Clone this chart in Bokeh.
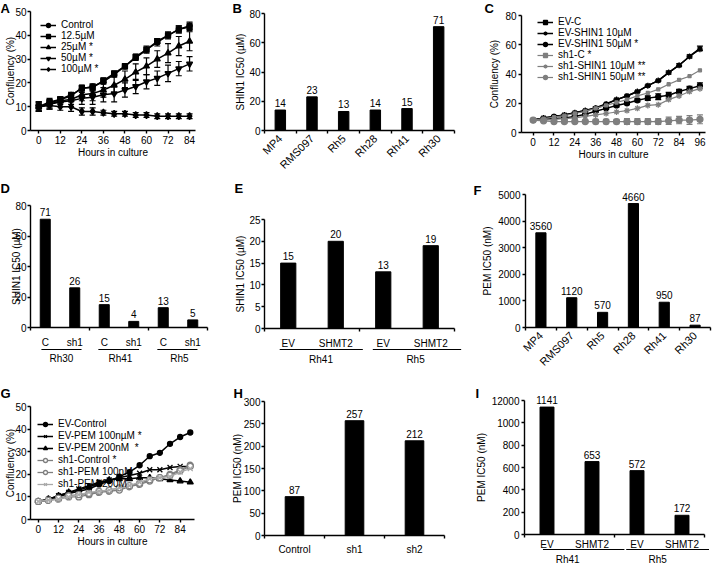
import math
from bokeh.plotting import figure
from bokeh.layouts import column, row
from bokeh.models import (FixedTicker, Legend, LegendItem, Whisker, ColumnDataSource,
                          TeeHead, Range1d)
from bokeh.embed import file_html
from bokeh.resources import INLINE
from bokeh.core.properties import value

FONT = "Liberation Sans"
FS = "10px"
GRAY = "#7f7f7f"
LGRAY = "#a9a9a9"

# ---------------- data ----------------
# Panel A
a_hours = [0, 6, 12, 18, 24, 30, 36, 42, 48, 54, 60, 66, 72, 78, 84]
a_control = [10, 11.5, 13, 15, 17.5, 18.5, 20.5, 23.5, 27, 30.5, 34, 37, 40, 42.5, 44]
a_12_5 = [10, 12, 13, 14.5, 18, 18, 21, 24, 27, 31, 34, 37.5, 40, 42.5, 43.5]
a_25 = [10, 11, 12.5, 13, 15, 15.5, 17, 19, 21.5, 24.5, 27, 30, 32.5, 35.5, 37.5]
a_50 = [10, 11, 12, 12.5, 13.5, 14, 15, 15.5, 17, 18.5, 20.5, 22, 24, 26, 28]
a_100 = [10, 10.5, 10, 10, 8, 8, 7.5, 7, 7, 6.5, 6.5, 6, 6, 6, 6]
a_err_control = [1.5, 1, 1, 1, 1, 1, 1, 1, 1, 1, 1.5, 1.5, 1.5, 1.5, 1.5]
a_err_12_5 = [2, 1.5, 1, 1, 1, 1.5, 1, 1, 1, 1, 1, 1, 1, 1.5, 1.5]
a_err_25 = [2, 1.5, 1.5, 2, 2.5, 3, 3, 3.5, 3.5, 3.5, 3.5, 3.5, 4, 4, 4]
a_err_50 = [2, 2, 2, 2.5, 2.5, 3, 3, 3.5, 3, 3, 3, 3, 3.5, 3, 3]
a_err_100 = [1.5, 1.5, 1.5, 2, 1.5, 1.5, 1, 1, 1, 1, 1, 1, 1, 1, 1]
a_labels = ["Control", "12.5µM", "25µM *", "50µM *", "100µM *"]

# Panel B
b_lines = ["MP4", "RMS097", "Rh5", "Rh28", "Rh41", "Rh30"]
b_ic50 = [14, 23, 13, 14, 15, 71]

# Panel C
c_hours = [0, 6, 12, 18, 24, 30, 36, 42, 48, 54, 60, 66, 72, 78, 84, 90, 96]
c_ev_c = [8.5, 10, 11, 12, 13.5, 15, 17, 19.5, 22.5, 25, 28, 32, 35.5, 41, 46, 52, 57.5]
c_ev_10 = [8.5, 10, 11, 12, 13.5, 15, 16.5, 19.5, 22.5, 25, 28, 32, 35.5, 41, 46, 52, 57]
c_ev_50 = [8.5, 9, 9.5, 10, 11, 12.5, 14.5, 16.5, 18.5, 20, 22, 23.5, 24.5, 25.5, 28, 30, 32]
c_sh1_c = [8.5, 9.5, 10.5, 11.5, 13, 14.5, 16.5, 18.5, 20.5, 22.5, 25, 27, 29.5, 33, 36, 38.5, 42.5]
c_sh1_10 = [8.5, 8.5, 9, 9.5, 10, 11, 12, 13, 14, 15, 16.5, 18.5, 19, 22.5, 25, 28, 30]
c_sh1_50 = [8.5, 8, 7.5, 7.5, 7.5, 7.5, 7.5, 7.5, 7.5, 7.5, 7.5, 7.5, 7.5, 8, 8.5, 8.5, 9]
c_err_ev_c = [0.5, 0.5, 0.5, 0.5, 0.5, 0.5, 0.5, 0.5, 0.5, 0.5, 0.5, 0.5, 0.5, 1, 1, 1, 1.5]
c_err_ev_50 = [0.5, 0.5, 0.5, 0.5, 0.5, 0.5, 0.5, 0.5, 1, 1, 1, 1.5, 2, 2, 1.5, 1.5, 2]
c_err_sh1_50 = [0.5, 0.5, 1, 1, 1, 1, 1.5, 1.5, 1.5, 2, 2, 2, 2, 2.5, 2.5, 3, 3]
c_labels = ["EV-C", "EV-SHIN1 10µM", "EV-SHIN1 50µM *", "sh1-C *", "sh1-SHIN1 10µM **", "sh1-SHIN1 50µM **"]

# Panel D
d_bars = ["C", "sh1", "C", "sh1", "C", "sh1"]
d_groups = ["Rh30", "Rh41", "Rh5"]
d_ic50 = [71, 26, 15, 4, 13, 5]

# Panel E
e_bars = ["EV", "SHMT2", "EV", "SHMT2"]
e_groups = ["Rh41", "Rh5"]
e_ic50 = [15, 20, 13, 19]

# Panel F
f_lines = ["MP4", "RMS097", "Rh5", "Rh28", "Rh41", "Rh30"]
f_ic50 = [3560, 1120, 570, 4660, 950, 87]

# Panel G
g_hours = [0, 6, 12, 18, 24, 30, 36, 42, 48, 54, 60, 66, 72, 78, 84, 90]
g_ev_control = [8, 8.5, 10, 11.5, 12.5, 13.5, 15.5, 17, 19, 21, 24, 28, 29.5, 33.5, 36.5, 38.5]
g_ev_pem100 = [8, 9, 10.5, 12, 13.5, 15, 16.5, 17.5, 18.5, 19.5, 20.5, 22, 22, 23, 23.5, 23.5]
g_ev_pem200 = [8, 9, 10.5, 12, 13, 14.5, 16, 17.5, 18, 18, 18.5, 18.5, 18, 17.5, 17, 16.5]
g_sh1_control = [8, 8.5, 9, 10, 10, 11, 12, 12.5, 13, 14.5, 15.5, 17, 18.5, 20, 22, 24]
g_sh1_pem100 = [8, 8.5, 9.5, 10.5, 11, 11.5, 12.5, 13, 14, 15, 16, 17.5, 18.5, 19.5, 21.5, 23.5]
g_sh1_pem200 = [8, 8.5, 9, 10, 11, 12, 12.5, 13, 14, 15, 16.5, 18, 18.5, 19, 21, 22.5]
g_labels = ["EV-Control", "EV-PEM 100nµM *", "EV-PEM 200nM  *", "sh1-Control *", "sh1-PEM 100nM", "sh1-PEM 200M"]

# Panel H
h_bars = ["Control", "sh1", "sh2"]
h_ic50 = [87, 257, 212]

# Panel I
i_bars = ["EV", "SHMT2", "EV", "SHMT2"]
i_groups = ["Rh41", "Rh5"]
i_ic50 = [1141, 653, 572, 172]
i_yticks = [0, 200, 400, 600, 800, 1000, 1200]
i_yticklabels = ["0", "200", "400", "600", "800", "1000", "12000"]


# ---------------- helpers ----------------
def mk(w, h, fl, fr, ft, fb, xa, xb, ya, yb, yticks, ylabel, xlabel=None,
       ylab_standoff=2, ytick_standoff=2):
    """Frame covers the whole canvas; axes sit at fixed data locations."""
    sx = (xb - xa) / (w - fl - fr)
    sy = (yb - ya) / (h - ft - fb)
    x0, x1 = xa - fl * sx, xb + fr * sx
    y0, y1 = ya - fb * sy, yb + ft * sy
    p = figure(width=w, height=h, x_range=Range1d(x0, x1), y_range=Range1d(y0, y1),
               output_backend="svg", toolbar_location=None, min_border=0,
               min_border_left=0, min_border_right=0, min_border_top=0, min_border_bottom=0)
    p.outline_line_color = None
    p.grid.visible = False
    p.background_fill_color = "white"
    for ax in p.axis:
        ax.axis_line_width = 1.4
        ax.axis_line_color = "black"
        ax.major_tick_line_width = 1.4
        ax.minor_tick_line_width = 1.4
        ax.major_tick_in = 0
        ax.major_tick_out = 3
        ax.minor_tick_in = 0
        ax.minor_tick_out = 0
        ax.major_label_standoff = 2
        ax.major_label_text_font = FONT
        ax.major_label_text_font_size = FS
        ax.major_label_text_color = "black"
        ax.axis_label_text_font = FONT
        ax.axis_label_text_font_size = FS
        ax.axis_label_text_font_style = "normal"
        ax.axis_label_text_color = "black"
        ax.axis_label_standoff = 2
    p.xaxis.fixed_location = ya
    p.xaxis.bounds = (xa, xb)
    p.yaxis.fixed_location = xa
    p.yaxis.bounds = (ya, max(yticks))
    p.yaxis.ticker = FixedTicker(ticks=yticks)
    p.yaxis.axis_label = ylabel
    p.yaxis.axis_label_standoff = ylab_standoff
    p.yaxis.major_label_standoff = ytick_standoff
    if xlabel:
        p.xaxis.axis_label = xlabel
        p.xaxis.axis_label_standoff = 0
    p._conv = (x0, sx, y1, sy)
    return p


def px(p, lx, ly):
    x0, sx, y1, sy = p._conv
    return x0 + lx * sx, y1 - ly * sy


def letter(p, txt, lx, ly):
    x, y = px(p, lx, ly)
    p.text(x=[x], y=[y], text=[txt], text_font=value(FONT), text_font_size="13px",
           text_font_style="bold", text_baseline="top", text_align="left", text_color="black")


def series(p, x, y, marker, color, size=6, err=None, lw=1.5):
    ln = p.line(x, y, line_color=color, line_width=lw)
    fill = color
    if marker == "circle_open":
        marker, fill = "circle", "white"
    sc = p.scatter(x, y, marker=marker, size=size, line_color=color, fill_color=fill,
                   line_width=1.3)
    if err is not None:
        src = ColumnDataSource(dict(x=x, up=[a + b for a, b in zip(y, err)],
                                    lo=[a - b for a, b in zip(y, err)]))
        p.add_layout(Whisker(base="x", upper="up", lower="lo", source=src,
                             line_color=color, line_width=1.2,
                             upper_head=TeeHead(size=6, line_color=color, line_width=1.2),
                             lower_head=TeeHead(size=6, line_color=color, line_width=1.2)))
    return [ln, sc]


def legend(p, items, loc, spacing=0):
    lg = Legend(items=[LegendItem(label=l, renderers=r) for l, r in items],
                location=loc, border_line_color=None, background_fill_alpha=0,
                padding=0, margin=0, spacing=spacing, glyph_width=16, glyph_height=10,
                label_height=10, label_standoff=5, label_text_font=FONT,
                label_text_font_size=FS, label_text_color="black")
    p.add_layout(lg)


def bars(p, xs, vals, width=0.33):
    p.vbar(x=xs, top=vals, width=width, fill_color="black", line_color="black")
    p.text(x=xs, y=vals, text=[str(v) for v in vals], y_offset=-3,
           text_align="center", text_baseline="bottom", text_font=value(FONT),
           text_font_size=FS, text_color="black")


def cat_axis(p, n, labels, boundaries, rotate=False, standoff=5):
    centers = [i + 0.5 for i in range(n)]
    p.xaxis.ticker = FixedTicker(ticks=centers, minor_ticks=boundaries)
    p.xaxis.major_label_overrides = {c: l for c, l in zip(centers, labels)}
    p.xaxis.major_tick_out = 0
    p.xaxis.minor_tick_out = 3
    p.xaxis.major_label_standoff = standoff
    if rotate:
        p.xaxis.major_label_orientation = math.pi / 4
        p.xaxis.major_label_text_font_size = "11px"
    return centers


def groups(p, names, spans, centers, line_ly, text_ly):
    _, ly = px(p, 0, line_ly)
    _, ty = px(p, 0, text_ly)
    p.segment(x0=[s[0] for s in spans], x1=[s[1] for s in spans], y0=ly, y1=ly,
              line_color="black", line_width=1.2)
    p.text(x=centers, y=ty, text=names, text_font=value(FONT), text_font_size=FS,
           text_align="center", text_baseline="top", text_color="black")


# ---------------- Panel A ----------------
pA = mk(232, 177, 30, 37, 11, 47, -4.6, 87.3, 0, 50, [0, 10, 20, 30, 40, 50],
        "Confluency (%)", "Hours in culture", ylab_standoff=-4, ytick_standoff=1)
pA.xaxis.ticker = FixedTicker(ticks=[0, 12, 24, 36, 48, 60, 72, 84])
rA = [series(pA, a_hours, a_control, "circle", "black", 5, a_err_control),
      series(pA, a_hours, a_12_5, "square", "black", 5, a_err_12_5),
      series(pA, a_hours, a_25, "triangle", "black", 6, a_err_25),
      series(pA, a_hours, a_50, "inverted_triangle", "black", 6, a_err_50),
      series(pA, a_hours, a_100, "diamond", "black", 7, a_err_100)]
legend(pA, list(zip(a_labels, rA)), (40, 103))
letter(pA, "A", 0, 0)

# ---------------- Panel B ----------------
pB = mk(240, 177, 32, 18, 13, 47, 0, 6, 0, 80, [0, 20, 40, 60, 80], "SHIN1 IC50 (µM)",
        ylab_standoff=0, ytick_standoff=1)
xb = cat_axis(pB, 6, b_lines, [0, 1, 2, 3, 4, 5, 6], rotate=True, standoff=3)
bars(pB, xb, b_ic50)
letter(pB, "B", 0, 0)

# ---------------- Panel C ----------------
pC = mk(240, 177, 49, 7, 15, 45, -6.7, 99.2, 0, 80, [0, 20, 40, 60, 80],
        "Confluency (%)", "Hours in culture")
pC.xaxis.ticker = FixedTicker(ticks=[0, 12, 24, 36, 48, 60, 72, 84, 96])
rC = [series(pC, c_hours, c_ev_c, "square", "black", 3, c_err_ev_c),
      series(pC, c_hours, c_ev_10, "asterisk", "black", 6),
      series(pC, c_hours, c_ev_50, "circle", "black", 5, c_err_ev_50),
      series(pC, c_hours, c_sh1_c, "square", GRAY, 3, lw=1.2),
      series(pC, c_hours, c_sh1_10, "asterisk", GRAY, 6, lw=1.2),
      series(pC, c_hours, c_sh1_50, "circle", GRAY, 6, c_err_sh1_50, lw=1.2)]
legend(pC, list(zip(c_labels, rC)), (65, 95))
letter(pC, "C", 12, 0)

# ---------------- Panel D ----------------
pD = mk(232, 203, 30, 25, 28, 53, 0, 6, 0, 80, [0, 20, 40, 60, 80], "SHIN1 IC50 (µM)",
        ylab_standoff=-10, ytick_standoff=1)
xd = cat_axis(pD, 6, d_bars, [0, 2, 4, 6], standoff=6)
bars(pD, xd, d_ic50, 0.34)
groups(pD, d_groups, [(0.37, 1.73), (2.30, 3.68), (4.30, 5.66)], [1.05, 3.05, 5.05], 172, 175)
letter(pD, "D", 0, 3)

# ---------------- Panel E ----------------
pE = mk(240, 203, 32, 18, 42, 52, 0, 4, 0, 25, [0, 5, 10, 15, 20, 25], "SHIN1 IC50 (µM)",
        ylab_standoff=0, ytick_standoff=1)
xe = cat_axis(pE, 4, e_bars, [0, 2, 4], standoff=6)
bars(pE, xe, e_ic50, 0.32)
groups(pE, e_groups, [(0.32, 2.07), (2.28, 4.14)], [1.19, 3.18], 172, 176)
letter(pE, "E", 2, 3)

# ---------------- Panel F ----------------
pF = mk(240, 203, 53, 2, 17, 53, 0, 6, 0, 5000, [0, 1000, 2000, 3000, 4000, 5000],
        "PEM IC50 (nM)")
xf = cat_axis(pF, 6, f_lines, [0, 1, 2, 3, 4, 5, 6], rotate=True, standoff=3)
bars(pF, xf, f_ic50)
letter(pF, "F", 1, 5)

# ---------------- Panel G ----------------
pG = mk(232, 185, 30, 38, 26, 46, -4.6, 92.5, 0, 50, [0, 10, 20, 30, 40, 50],
        "Confluency (%)", "Hours in culture", ylab_standoff=-4, ytick_standoff=1)
pG.xaxis.ticker = FixedTicker(ticks=[0, 12, 24, 36, 48, 60, 72, 84])
rG = [series(pG, g_hours, g_ev_control, "circle", "black", 5),
      series(pG, g_hours, g_ev_pem100, "x", "black", 7),
      series(pG, g_hours, g_ev_pem200, "triangle", "black", 6),
      series(pG, g_hours, g_sh1_control, "circle_open", GRAY, 6, lw=1.3),
      series(pG, g_hours, g_sh1_pem100, "circle_open", GRAY, 6, lw=1.3),
      series(pG, g_hours, g_sh1_pem200, "x", LGRAY, 7, lw=1.3)]
legend(pG, list(zip(g_labels, rG)), (37, 76), spacing=1)
letter(pG, "G", 0, 5)

# ---------------- Panel H ----------------
pH = mk(240, 185, 32, 28, 21, 30, 0, 3, 0, 300, [0, 50, 100, 150, 200, 250, 300],
        "PEM IC50 (nM)", ylab_standoff=-2, ytick_standoff=1)
xh = cat_axis(pH, 3, h_bars, [0, 1, 2, 3], standoff=5)
bars(pH, xh, h_ic50, 0.31)
letter(pH, "H", 1, 5)

# ---------------- Panel I ----------------
pI = mk(240, 185, 52, 8, 20, 31, 0, 4, 0, 1200, i_yticks, "PEM IC50 (nM)")
pI.yaxis.major_label_overrides = {t: l for t, l in zip(i_yticks, i_yticklabels)}
xi = cat_axis(pI, 4, i_bars, [0, 2, 4], standoff=1)
bars(pI, xi, i_ic50, 0.31)
groups(pI, i_groups, [(0.41, 2.22), (2.26, 4.1)], [0.96, 2.96], 169, 173)
letter(pI, "I", 3, 5)

layout = column(row(pA, pB, pC), row(pD, pE, pF), row(pG, pH, pI))
open("out.html", "w").write(file_html(layout, INLINE))
